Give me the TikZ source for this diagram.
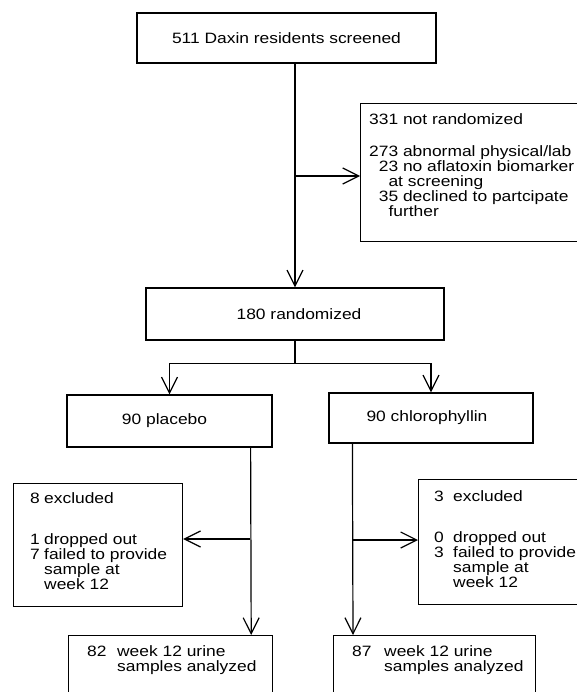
\documentclass[tikz,border=0pt]{standalone}
\usepackage{fontspec}
\setmainfont{Liberation Sans}[FakeStretch=1.16]
\usetikzlibrary{arrows.meta}
\begin{document}
\begin{tikzpicture}[x=1pt,y=-1pt,
  box/.style={draw, line width=1.2pt, rectangle, inner sep=0pt, font=\fontsize{15}{15}\selectfont},
  arr/.style={line width=1.2pt, -{Straight Barb[length=16pt,width=16pt,line width=1.2pt]}},
  txt/.style={font=\fontsize{15}{15}\selectfont, inner sep=0pt, align=left, anchor=north west}]
\useasboundingbox (0,0) rectangle (577,692);
\clip (0,0) rectangle (577,692);
% boxes
\node[box, minimum width=299pt, minimum height=50pt] (scr) at (286.5,38) {511 Daxin residents screened};
\node[box, minimum width=240pt, minimum height=138pt, anchor=north west] (notr) at (360,103) {};
\node[txt] (notrt) at (369,113) {331 not randomized\\[17pt]
273 abnormal physical/lab\\
\hphantom{0}23 no aflatoxin biomarker\\
\hphantom{00}at screening\\
\hphantom{0}35 declined to partcipate\\
\hphantom{00}further};
\node[box, minimum width=298pt, minimum height=52pt] (rand) at (295,314) {\hspace*{8pt}180 randomized};
\node[box, minimum width=205pt, minimum height=52pt] (plac) at (169.5,421) {90 placebo\hspace*{10pt}};
\node[box, minimum width=204pt, minimum height=50pt] (chl) at (431,418) {90 chlorophyllin\hspace*{8pt}};
\node[box, minimum width=169pt, minimum height=123pt, anchor=north west] (ex1) at (13,483) {};
\node[txt] (ex1t) at (30,492) {\makebox[14pt][l]{8}excluded\\[26pt]
\makebox[14pt][l]{1}dropped out\\
\makebox[14pt][l]{7}failed to provide\\
\hspace*{14pt}sample at\\
\hspace*{14pt}week 12};
\node[box, minimum width=190pt, minimum height=125pt, anchor=north west] (ex2) at (418,479) {};
\node[txt] (ex2t) at (434,490) {\makebox[19pt][l]{3}excluded\\[26pt]
\makebox[19pt][l]{0}dropped out\\
\makebox[19pt][l]{3}failed to provide\\
\hspace*{19pt}sample at\\
\hspace*{19pt}week 12};
\node[box, minimum width=204pt, minimum height=90pt, anchor=north west] (res1) at (68,635) {};
\node[txt] (res1t) at (87,645) {\makebox[30pt][l]{82}week 12 urine\\
\hspace*{30pt}samples analyzed};
\node[box, minimum width=202pt, minimum height=90pt, anchor=north west] (res2) at (333,635) {};
\node[txt] (res2t) at (352,645) {\makebox[32pt][l]{87}week 12 urine\\
\hspace*{32pt}samples analyzed};
% connectors
\draw[arr] (scr.south -| rand.north) -- (rand.north);
\coordinate (j1) at (295,176);
\draw[arr] (j1) -- (j1 -| notr.west);
\draw[arr] (rand.south) -- ++(0,23) -| (plac.north);
\draw[arr] (rand.south) -- ++(0,23) -| (chl.north);
\draw[arr] ([xshift=-22pt]plac.south east) -- ([xshift=-22pt]res1.north east);
\coordinate (j2) at (250,539);
\draw[arr] (j2) -- (j2 -| ex1.east);
\draw[arr] ([xshift=24pt]chl.south west) -- ([xshift=20pt]res2.north west);
\coordinate (j3) at (353,540);
\draw[arr] (j3) -- (j3 -| ex2.west);
\end{tikzpicture}
\end{document}
